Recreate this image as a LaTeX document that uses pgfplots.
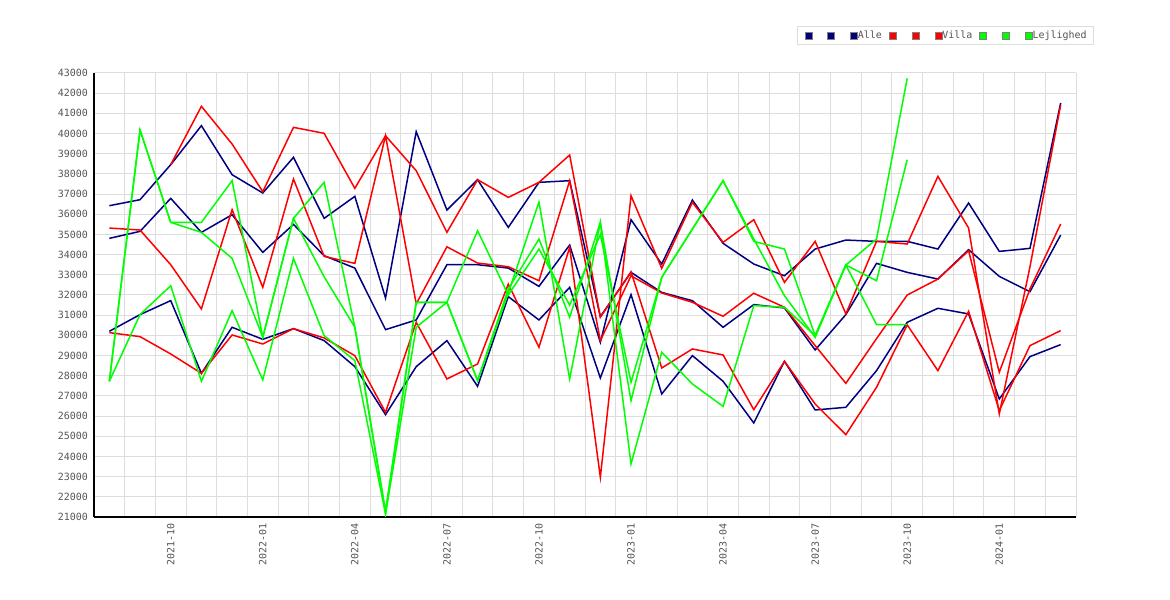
\documentclass[border=0pt]{standalone}
\usepackage{pgfplots}
\pgfplotsset{compat=1.18}
\usepackage{fontspec}
\setmainfont{DejaVu Sans Mono}
\definecolor{navyc}{RGB}{0,0,128}
\definecolor{redc}{RGB}{255,0,0}
\definecolor{greenc}{RGB}{0,255,0}
\definecolor{gridc}{RGB}{221,221,221}
\definecolor{txtc}{RGB}{85,85,85}
\pgfplotsset{sq/.style={legend image code/.code={\filldraw[fill=#1,draw=gray,line width=0.8bp] (0bp,-3.5bp) rectangle (7bp,3.5bp);}}}
\begin{document}
\begin{tikzpicture}
\useasboundingbox (0bp,0bp) rectangle (1170bp,600bp);
\begin{axis}[
  at={(94bp,83bp)}, anchor=south west,
  scale only axis, width=982bp, height=444bp,
  xmin=-0.5, xmax=31.5, ymin=21000, ymax=43000,
  axis lines*=left,
  axis line style={black, line width=1.5bp},
  xtick={2,5,8,11,14,17,20,23,26,29},
  xticklabels={2021-10,2022-01,2022-04,2022-07,2022-10,2023-01,2023-04,2023-07,2023-10,2024-01},
  minor xtick={-0.5,0.5,...,31.5},
  xminorgrids, ymajorgrids,
  ytick={21000,22000,...,43000},
  scaled y ticks=false,
  major tick length=0pt, minor tick length=0pt,
  grid style={gridc, line width=1bp},
  minor grid style={gridc, line width=1bp},
  tick label style={font=\fontsize{10}{12}\selectfont, text=txtc},
  /pgf/number format/assume math mode=true,
  /pgf/number format/1000 sep={},
  yticklabel shift=2.5bp,
  xticklabel shift=2.7bp,
  xticklabel style={rotate=90, anchor=east},
  legend columns=9,
  legend cell align=left,
  legend style={at={(0,1)}, anchor=north west, xshift=703bp, yshift=47bp,
    draw=gridc, line width=1bp, fill=white, inner xsep=7bp, inner ysep=3bp,
    font=\fontsize{10}{12}\selectfont, text=txtc, /tikz/column sep=0pt,
    nodes={inner xsep=0pt, inner ysep=1.5bp}},
  every axis plot/.append style={line width=1.5bp, mark=none},
]
% Alle
\addplot[navyc, sq=navyc] coordinates {(0,36425)(1,36722)(2,38457)(3,40390)(4,37961)(5,37054)(6,38820)(7,35797)(8,36887)(9,31848)(10,40092)(11,36210)(12,37713)(13,35351)(14,37581)(15,37664)(16,30929)(17,33121)(18,32129)(19,31717)(20,30400)(21,31523)(22,31358)(23,29276)(24,31028)(25,33567)(26,33121)(27,32790)(28,34244)(29,32922)(30,32163)(31,34971)};
\addlegendentry{\hspace*{15bp}}
\addplot[navyc, sq=navyc] coordinates {(0,34806)(1,35153)(2,36788)(3,35103)(4,35979)(5,34112)(6,35500)(7,33947)(8,33335)(9,30284)(10,30763)(11,33500)(12,33500)(13,33335)(14,32427)(15,34475)(16,29656)(17,35731)(18,33534)(19,36705)(20,34558)(21,33534)(22,32955)(23,34277)(24,34723)(25,34657)(26,34657)(27,34277)(28,36557)(29,34161)(30,34310)(31,41513)};
\addlegendentry{\hspace*{15bp}}
\addplot[navyc, sq=navyc] coordinates {(0,30202)(1,31028)(2,31721)(3,28120)(4,30400)(5,29805)(6,30334)(7,29739)(8,28450)(9,26072)(10,28450)(11,29739)(12,27476)(13,31920)(14,30763)(15,32377)(16,27889)(17,32019)(18,27096)(19,28996)(20,27724)(21,25659)(22,28715)(23,26303)(24,26435)(25,28252)(26,30648)(27,31341)(28,31061)(29,26848)(30,28946)(31,29541)};
\addlegendentry{Alle\hspace*{7bp}}
% Villa
\addplot[redc, sq=redc] coordinates {(2,38457)(3,41348)(4,39481)(5,37118)(6,40307)(7,40010)(8,37284)(9,39890)(10,38159)(11,35103)(12,37713)(13,36837)(14,37581)(15,38936)(16,30900)(17,33150)(18,28384)(19,29326)(20,29029)(21,26320)(22,28715)(23,26600)(24,25080)(25,27426)(26,30520)(27,28252)(28,31193)(29,26270)(30,29491)(31,30235)};
\addlegendentry{\hspace*{15bp}}
\addplot[redc, sq=redc] coordinates {(0,35318)(1,35219)(2,33501)(3,31308)(4,36226)(5,32377)(6,37746)(7,33914)(8,33567)(9,39890)(10,31556)(11,34388)(12,33583)(13,33401)(14,32708)(15,37660)(16,29740)(17,32950)(18,32100)(19,31639)(20,30945)(21,32085)(22,31391)(23,29491)(24,27624)(25,29838)(26,32000)(27,32790)(28,34194)(29,28170)(30,32300)(31,35517)};
\addlegendentry{\hspace*{15bp}}
\addplot[redc, sq=redc] coordinates {(0,30135)(1,29937)(2,29078)(3,28120)(4,30020)(5,29574)(6,30334)(7,29871)(8,28996)(9,26187)(10,30648)(11,27840)(12,28583)(13,32541)(14,29410)(15,34360)(16,22966)(17,36920)(18,33319)(19,36590)(20,34607)(21,35731)(22,32624)(23,34657)(24,31061)(25,34657)(26,34525)(27,37878)(28,35318)(29,26105)(30,33400)(31,41414)};
\addlegendentry{Villa\hspace*{7bp}}
% Lejlighed
\addplot[greenc, sq=greenc] coordinates {(0,27724)(1,40175)(2,35599)(3,35599)(4,37664)(5,29904)(6,35797)(7,37581)(8,30400)(9,21149)(10,31639)(11,31639)(12,27757)(13,32100)(14,36606)(15,27840)(16,35599)(17,23627)(18,29161)(19,27591)(20,26482)(21,31474)(22,31391)(23,29987)(24,33485)(25,30532)(26,30532)};
\addlegendentry{\hspace*{15bp}}
\addplot[greenc, sq=greenc] coordinates {(0,27724)(1,40175)(2,35599)(3,35103)(4,33814)(5,29904)(6,35797)(7,32900)(8,30400)(9,21300)(10,31639)(11,31639)(12,27757)(13,32300)(14,34773)(15,30895)(16,35599)(17,26765)(18,32873)(19,35268)(20,37664)(21,34657)(22,34277)(23,29987)(24,33485)(25,32708)(26,38704)};
\addlegendentry{\hspace*{15bp}}
\addplot[greenc, sq=greenc] coordinates {(0,27724)(1,31028)(2,32460)(3,27724)(4,31226)(5,27790)(6,33814)(7,29987)(8,28748)(9,21149)(10,30400)(11,31639)(12,35186)(13,32000)(14,34277)(15,31500)(16,35000)(17,27674)(18,32873)(19,35268)(20,37664)(21,34773)(22,31964)(23,29900)(24,33485)(25,34773)(26,42735)};
\addlegendentry{Lejlighed}
\end{axis}
\end{tikzpicture}
\end{document}
